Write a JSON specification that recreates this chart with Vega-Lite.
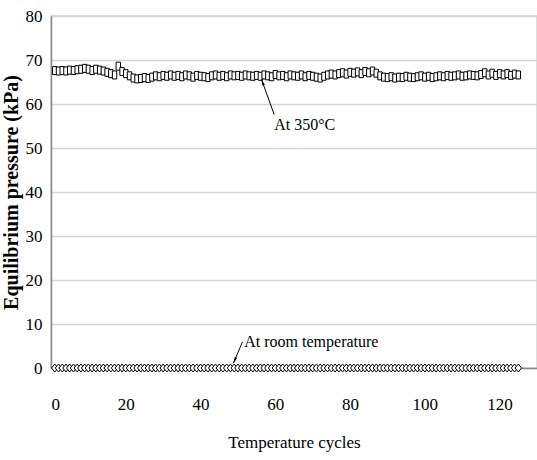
{
  "$schema": "https://vega.github.io/schema/vega-lite/v6.json",
  "width": 486,
  "height": 352,
  "autosize": {"type": "none"},
  "padding": {"left": 51, "top": 16, "right": 0, "bottom": 92},
  "background": "white",
  "config": {
    "view": {"stroke": "#d4d4d4", "strokeWidth": 1.5},
    "font": "Liberation Serif",
    "axis": {"labelFont": "Liberation Serif", "titleFont": "Liberation Serif"},
    "text": {"font": "Liberation Serif"}
  },
  "datasets": {
    "cycles": [
      {"cycle":1,"hot":67.6,"room":0},{"cycle":2,"hot":67.5,"room":0},{"cycle":3,"hot":67.6,"room":0},{"cycle":4,"hot":67.5,"room":0},{"cycle":5,"hot":67.7,"room":0},
      {"cycle":6,"hot":67.6,"room":0},{"cycle":7,"hot":67.8,"room":0},{"cycle":8,"hot":67.9,"room":0},{"cycle":9,"hot":68.1,"room":0},{"cycle":10,"hot":67.9,"room":0},
      {"cycle":11,"hot":67.6,"room":0},{"cycle":12,"hot":67.9,"room":0},{"cycle":13,"hot":67.7,"room":0},{"cycle":14,"hot":67.5,"room":0},{"cycle":15,"hot":67.2,"room":0},
      {"cycle":16,"hot":66.9,"room":0},{"cycle":17,"hot":66.6,"room":0},{"cycle":18,"hot":68.6,"room":0},{"cycle":19,"hot":67.4,"room":0},{"cycle":20,"hot":66.9,"room":0},
      {"cycle":21,"hot":66.4,"room":0},{"cycle":22,"hot":65.9,"room":0},{"cycle":23,"hot":65.7,"room":0},{"cycle":24,"hot":65.8,"room":0},{"cycle":25,"hot":66.0,"room":0},
      {"cycle":26,"hot":65.8,"room":0},{"cycle":27,"hot":66.1,"room":0},{"cycle":28,"hot":66.4,"room":0},{"cycle":29,"hot":66.2,"room":0},{"cycle":30,"hot":66.5,"room":0},
      {"cycle":31,"hot":66.3,"room":0},{"cycle":32,"hot":66.6,"room":0},{"cycle":33,"hot":66.3,"room":0},{"cycle":34,"hot":66.5,"room":0},{"cycle":35,"hot":66.2,"room":0},
      {"cycle":36,"hot":66.6,"room":0},{"cycle":37,"hot":66.4,"room":0},{"cycle":38,"hot":66.1,"room":0},{"cycle":39,"hot":66.5,"room":0},{"cycle":40,"hot":66.3,"room":0},
      {"cycle":41,"hot":66.2,"room":0},{"cycle":42,"hot":66.0,"room":0},{"cycle":43,"hot":66.4,"room":0},{"cycle":44,"hot":66.6,"room":0},{"cycle":45,"hot":66.3,"room":0},
      {"cycle":46,"hot":66.5,"room":0},{"cycle":47,"hot":66.2,"room":0},{"cycle":48,"hot":66.6,"room":0},{"cycle":49,"hot":66.4,"room":0},{"cycle":50,"hot":66.5,"room":0},
      {"cycle":51,"hot":66.3,"room":0},{"cycle":52,"hot":66.6,"room":0},{"cycle":53,"hot":66.4,"room":0},{"cycle":54,"hot":66.3,"room":0},{"cycle":55,"hot":66.5,"room":0},
      {"cycle":56,"hot":66.3,"room":0},{"cycle":57,"hot":66.6,"room":0},{"cycle":58,"hot":66.4,"room":0},{"cycle":59,"hot":66.2,"room":0},{"cycle":60,"hot":66.7,"room":0},
      {"cycle":61,"hot":66.4,"room":0},{"cycle":62,"hot":66.5,"room":0},{"cycle":63,"hot":66.2,"room":0},{"cycle":64,"hot":66.6,"room":0},{"cycle":65,"hot":66.4,"room":0},
      {"cycle":66,"hot":66.3,"room":0},{"cycle":67,"hot":66.6,"room":0},{"cycle":68,"hot":66.2,"room":0},{"cycle":69,"hot":66.5,"room":0},{"cycle":70,"hot":66.3,"room":0},
      {"cycle":71,"hot":66.1,"room":0},{"cycle":72,"hot":65.9,"room":0},{"cycle":73,"hot":66.3,"room":0},{"cycle":74,"hot":66.6,"room":0},{"cycle":75,"hot":66.8,"room":0},
      {"cycle":76,"hot":66.6,"room":0},{"cycle":77,"hot":66.9,"room":0},{"cycle":78,"hot":67.1,"room":0},{"cycle":79,"hot":66.8,"room":0},{"cycle":80,"hot":67.2,"room":0},
      {"cycle":81,"hot":67.0,"room":0},{"cycle":82,"hot":67.3,"room":0},{"cycle":83,"hot":66.9,"room":0},{"cycle":84,"hot":67.4,"room":0},{"cycle":85,"hot":67.1,"room":0},
      {"cycle":86,"hot":67.5,"room":0},{"cycle":87,"hot":67.0,"room":0},{"cycle":88,"hot":66.4,"room":0},{"cycle":89,"hot":66.1,"room":0},{"cycle":90,"hot":66.0,"room":0},
      {"cycle":91,"hot":66.2,"room":0},{"cycle":92,"hot":65.9,"room":0},{"cycle":93,"hot":66.1,"room":0},{"cycle":94,"hot":66.0,"room":0},{"cycle":95,"hot":66.3,"room":0},
      {"cycle":96,"hot":66.1,"room":0},{"cycle":97,"hot":66.0,"room":0},{"cycle":98,"hot":66.2,"room":0},{"cycle":99,"hot":66.4,"room":0},{"cycle":100,"hot":66.1,"room":0},
      {"cycle":101,"hot":66.3,"room":0},{"cycle":102,"hot":66.0,"room":0},{"cycle":103,"hot":66.2,"room":0},{"cycle":104,"hot":66.4,"room":0},{"cycle":105,"hot":66.2,"room":0},
      {"cycle":106,"hot":66.5,"room":0},{"cycle":107,"hot":66.3,"room":0},{"cycle":108,"hot":66.4,"room":0},{"cycle":109,"hot":66.6,"room":0},{"cycle":110,"hot":66.3,"room":0},
      {"cycle":111,"hot":66.4,"room":0},{"cycle":112,"hot":66.6,"room":0},{"cycle":113,"hot":66.5,"room":0},{"cycle":114,"hot":66.4,"room":0},{"cycle":115,"hot":66.7,"room":0},
      {"cycle":116,"hot":67.1,"room":0},{"cycle":117,"hot":66.6,"room":0},{"cycle":118,"hot":67.0,"room":0},{"cycle":119,"hot":66.5,"room":0},{"cycle":120,"hot":66.9,"room":0},
      {"cycle":121,"hot":66.6,"room":0},{"cycle":122,"hot":66.9,"room":0},{"cycle":123,"hot":66.5,"room":0},{"cycle":124,"hot":66.8,"room":0},{"cycle":125,"hot":66.6,"room":0}
    ],
    "notes": [
      {"x": 59.7, "y": 55.2, "label": "At 350°C"},
      {"x": 51.7, "y": 5.8, "label": "At room temperature"}
    ],
    "arrows": [
      {"x": 59.7, "y": 57.6, "x2": 56.3, "y2": 65.6},
      {"x": 51.2, "y": 5.9, "x2": 48.8, "y2": 1.1}
    ]
  },
  "layer": [
    {
      "data": {"name": "cycles"},
      "mark": {"type": "point", "shape": "M-0.8,0L0,-1L0.8,0L0,1Z", "size": 64, "filled": true, "fill": "white", "stroke": "black", "strokeWidth": 1, "opacity": 1},
      "encoding": {
        "x": {"field": "cycle", "type": "quantitative", "scale": {"domain": [0, 130], "nice": false},
          "axis": {"title": "Temperature cycles", "values": [0, 20, 40, 60, 80, 100, 120], "grid": false, "ticks": false, "domainColor": "#8a8a8a", "domainWidth": 1.5,
            "labelFontSize": 17, "labelColor": "black", "labelPadding": 28, "titleFontSize": 17, "titleFontWeight": "normal", "titleColor": "black", "titlePadding": 22}},
        "y": {"field": "room", "type": "quantitative", "scale": {"domain": [0, 80], "nice": false},
          "axis": {"title": "Equilibrium pressure (kPa)", "values": [0, 10, 20, 30, 40, 50, 60, 70, 80], "grid": true, "gridColor": "#d4d4d4", "gridWidth": 1.5, "ticks": false,
            "domainColor": "#8a8a8a", "domainWidth": 1.5, "labelFontSize": 17, "labelColor": "black", "labelPadding": 9,
            "titleFontSize": 20, "titleFontWeight": "bold", "titleColor": "black", "titlePadding": 4}}
      }
    },
    {
      "data": {"name": "cycles"},
      "mark": {"type": "point", "shape": "M-0.55,-1H0.55V1H-0.55Z", "size": 64, "filled": true, "fill": "white", "stroke": "black", "strokeWidth": 1, "opacity": 1},
      "encoding": {
        "x": {"field": "cycle", "type": "quantitative"},
        "y": {"field": "hot", "type": "quantitative"}
      }
    },
    {
      "data": {"name": "arrows"},
      "mark": {"type": "rule", "color": "black", "strokeWidth": 1},
      "encoding": {
        "x": {"field": "x", "type": "quantitative"},
        "y": {"field": "y", "type": "quantitative"},
        "x2": {"field": "x2"},
        "y2": {"field": "y2"}
      }
    },
    {
      "data": {"values": [{"x": 56.3, "y": 65.6}]},
      "mark": {"type": "point", "shape": "M0,0L0.5,2.5L-0.5,2.5Z", "size": 25, "filled": true, "color": "black", "opacity": 1, "angle": 339.6},
      "encoding": {
        "x": {"field": "x", "type": "quantitative"},
        "y": {"field": "y", "type": "quantitative"}
      }
    },
    {
      "data": {"values": [{"x": 48.8, "y": 1.1}]},
      "mark": {"type": "point", "shape": "M0,0L0.5,2.5L-0.5,2.5Z", "size": 25, "filled": true, "color": "black", "opacity": 1, "angle": 204.2},
      "encoding": {
        "x": {"field": "x", "type": "quantitative"},
        "y": {"field": "y", "type": "quantitative"}
      }
    },
    {
      "data": {"name": "notes"},
      "mark": {"type": "text", "align": "left", "baseline": "middle", "fontSize": 16, "color": "black", "font": "Liberation Serif"},
      "encoding": {
        "x": {"field": "x", "type": "quantitative"},
        "y": {"field": "y", "type": "quantitative"},
        "text": {"field": "label"}
      }
    }
  ]
}
